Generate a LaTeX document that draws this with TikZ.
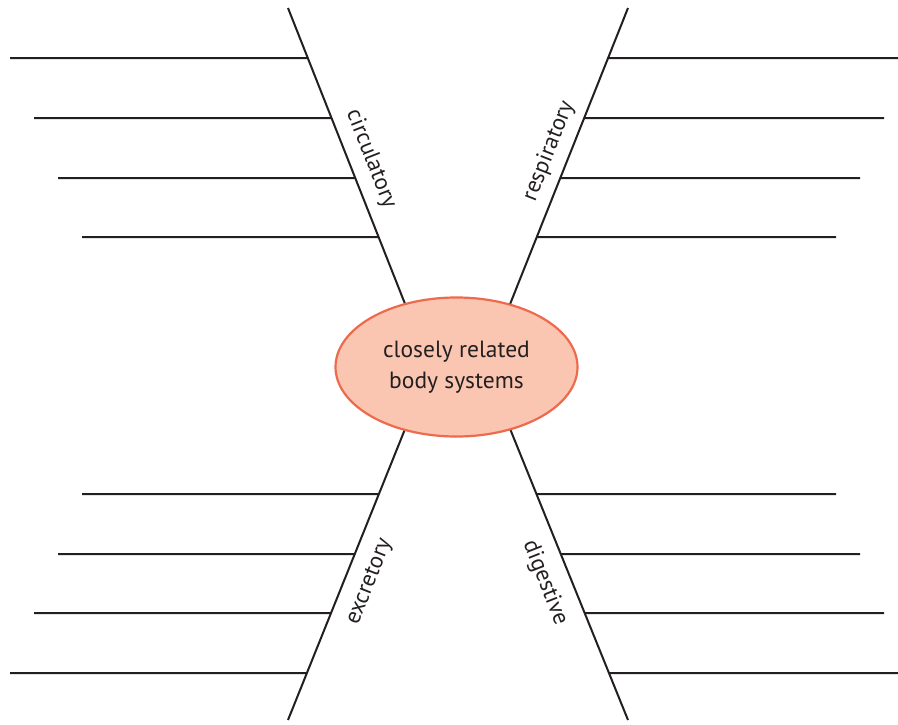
\documentclass[tikz,border=0pt]{standalone}
\usepackage{fontspec}
\setmainfont{PT Sans}
\usetikzlibrary{calc,shapes.geometric}
\definecolor{ink}{HTML}{231F20}
\definecolor{ovalfill}{HTML}{FAC6B1}
\definecolor{ovaldraw}{HTML}{EE6A4C}
\begin{document}
\begin{tikzpicture}[x=1pt,y=-1pt,
  bone/.style={draw=ink,line width=2pt},
  rib/.style={draw=ink,line width=2pt},
  lbl/.style={text=ink,font=\fontsize{23}{26}\selectfont,inner sep=0pt},
  oval/.style={ellipse,fill=ovalfill,draw=ovaldraw,line width=2.2pt,minimum width=242pt,minimum height=139pt,inner sep=0pt,text=ink,align=center,font=\fontsize{23.5}{31}\selectfont}]
\useasboundingbox (0,0) rectangle (898,724);
% spine endpoints
\coordinate (ul) at (288,8);
\coordinate (ur) at (628,8);
\coordinate (ll) at (288,720);
\coordinate (lr) at (628,720);
\coordinate (cl) at (430,367);
\coordinate (cr) at (485,367);
\draw[bone] (ul) -- (cl);
\draw[bone] (ur) -- (cr);
\draw[bone] (ll) -- (cl);
\draw[bone] (lr) -- (cr);
% ribs upper
\foreach \y/\x/\xr in {58/10/898,118/34/884,178/58/860,237/82/836}{
  \coordinate (a) at (\x,\y);
  \coordinate (b) at (\xr,\y);
  \draw[rib] (a) -- ($(ul)!{(\y-8)/359}!(cl)$);
  \draw[rib] (b) -- ($(ur)!{(\y-8)/359}!(cr)$);
}
% ribs lower
\foreach \y/\x/\xr in {494/82/836,554/58/860,613/34/884,673/10/898}{
  \coordinate (a) at (\x,\y);
  \coordinate (b) at (\xr,\y);
  \draw[rib] (a) -- ($(ll)!{(720-\y)/353}!(cl)$);
  \draw[rib] (b) -- ($(lr)!{(720-\y)/353}!(cr)$);
}
% centre
\node[oval] (hub) at (456.5,367) {closely related\\body systems};
% labels
\node[lbl,rotate=-68.5] (circ) at (371,159) {circulatory};
\node[lbl,rotate=68.5] (resp) at (549,151) {respiratory};
\node[lbl,rotate=68.5] (excr) at (370,582) {excretory};
\node[lbl,rotate=-68.5] (dige) at (545,583) {digestive};
\end{tikzpicture}
\end{document}
